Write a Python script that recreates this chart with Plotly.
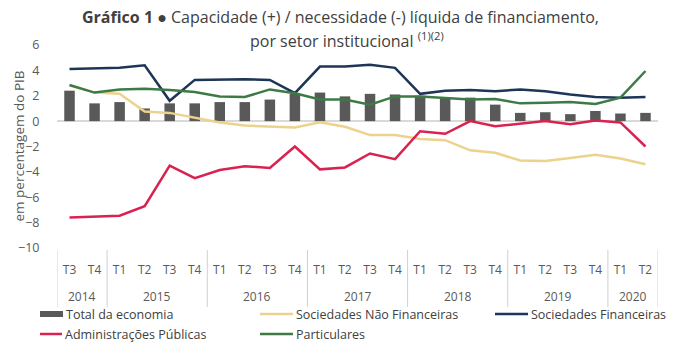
import plotly.graph_objects as go

years = ["2014"] * 2 + ["2015"] * 4 + ["2016"] * 4 + ["2017"] * 4 + ["2018"] * 4 + ["2019"] * 4 + ["2020"] * 2
quarters = ["T3", "T4"] + ["T1", "T2", "T3", "T4"] * 5 + ["T1", "T2"]

total_economia = [2.4, 1.4, 1.5, 1.0, 1.4, 1.4, 1.5, 1.5, 1.7, 2.15, 2.25, 1.95,
                  2.15, 2.1, 2.0, 1.9, 1.85, 1.3, 0.65, 0.7, 0.55, 0.8, 0.6, 0.65]
soc_nao_financeiras = [2.8, 2.25, 2.15, 0.75, 0.65, 0.25, -0.1, -0.35, -0.45, -0.5, -0.1, -0.45,
                       -1.1, -1.1, -1.4, -1.5, -2.3, -2.5, -3.1, -3.15, -2.9, -2.65, -2.95, -3.4]
soc_financeiras = [4.1, 4.15, 4.2, 4.4, 1.6, 3.25, 3.3, 3.3, 3.25, 2.2, 4.3, 4.3,
                   4.45, 4.2, 2.15, 2.4, 2.45, 2.35, 2.5, 2.35, 2.1, 1.9, 1.85, 1.9]
adm_publicas = [-7.6, -7.5, -7.45, -6.7, -3.5, -4.5, -3.85, -3.55, -3.7, -2.0, -3.8, -3.65,
                -2.55, -3.0, -0.8, -1.0, 0.0, -0.4, -0.2, 0.0, -0.25, 0.05, -0.1, -2.0]
particulares = [2.85, 2.25, 2.5, 2.55, 2.45, 2.3, 1.95, 1.9, 2.5, 2.2, 1.7, 1.7,
                1.3, 1.95, 1.95, 1.85, 1.7, 1.75, 1.4, 1.45, 1.5, 1.35, 1.85, 3.95]

names = ["Total da economia", "Sociedades Não Financeiras", "Sociedades Financeiras",
         "Administrações Públicas", "Particulares"]
colors = ["#595959", "#ecd28c", "#1d3557", "#d92250", "#3d7a46"]

W, H = 680, 351
L, R, T, B = 57, 22, 45, 103
PW, PH = W - L - R, H - T - B

def px_x(px):
    return (px - L) / PW

def px_y(py):
    return (H - B - py) / PH

xs = list(range(len(quarters)))
fig = go.Figure()
fig.add_trace(go.Bar(x=xs, y=total_economia, name=names[0], marker_color=colors[0],
                     marker_line_width=0, showlegend=False))
for vals, nm, col in [(soc_nao_financeiras, names[1], colors[1]),
                      (soc_financeiras, names[2], colors[2]),
                      (adm_publicas, names[3], colors[3]),
                      (particulares, names[4], colors[4])]:
    fig.add_trace(go.Scatter(x=xs, y=vals, name=nm, mode="lines",
                             line=dict(color=col, width=2.5), showlegend=False))

font = "Open Sans, sans-serif"
fig.update_layout(
    width=W, height=H,
    margin=dict(l=L, r=R, t=T, b=B),
    paper_bgcolor="white", plot_bgcolor="white",
    bargap=0.58,
    font=dict(family=font, size=12, color="#595959"),
    xaxis=dict(range=[-0.5, len(quarters) - 0.5], showgrid=False, showline=False, zeroline=False,
               tickmode="array", tickvals=xs, ticktext=quarters,
               ticks="outside", ticklen=11, tickcolor="rgba(0,0,0,0)",
               tickfont=dict(size=12, color="#595959")),
    yaxis=dict(range=[-10, 6], dtick=2, showgrid=False, showline=False,
               zeroline=True, zerolinecolor="#d9d9d9", zerolinewidth=1.5,
               ticks="outside", ticklen=14, tickcolor="rgba(0,0,0,0)",
               tickfont=dict(size=12.5, color="#595959")),
)

# Y axis title
fig.add_annotation(text="em percentagem do PIB", xref="paper", yref="paper",
                   x=px_x(18), y=0.5, xanchor="center", yanchor="middle", textangle=-90,
                   showarrow=False, font=dict(size=13.5, color="#595959", family=font))

# Year group labels and dividers
groups = []
for i, yv in enumerate(years):
    if not groups or groups[-1][0] != yv:
        groups.append([yv, i, i])
    else:
        groups[-1][2] = i
for yv, i0, i1 in groups:
    fig.add_annotation(text=yv, xref="x", yref="paper", x=(i0 + i1) / 2, y=px_y(296),
                       xanchor="center", yanchor="middle", showarrow=False,
                       font=dict(size=12, color="#595959", family=font))
    fig.add_shape(type="line", xref="x", yref="paper", x0=i0 - 0.5, x1=i0 - 0.5,
                  y0=px_y(250), y1=px_y(307), line=dict(color="#d0d0d0", width=1))
fig.add_shape(type="line", xref="x", yref="paper", x0=len(years) - 0.5, x1=len(years) - 0.5,
              y0=px_y(250), y1=px_y(307), line=dict(color="#d0d0d0", width=1))

# Title
fig.add_annotation(text="<b>Gráfico 1 ●</b> Capacidade (+) / necessidade (-) líquida de financiamento,",
                   xref="paper", yref="paper", x=px_x(340), y=px_y(17), xanchor="center",
                   yanchor="middle", showarrow=False, font=dict(size=16, color="#404040", family=font))
fig.add_annotation(text="por setor institucional <sup>(1)(2)</sup>",
                   xref="paper", yref="paper", x=px_x(347), y=px_y(40), xanchor="center",
                   yanchor="middle", showarrow=False, font=dict(size=16, color="#404040", family=font))

# Manual legend
legend_items = [
    (0, 40, 63, 314, "bar"),
    (1, 260, 293, 314, "line"),
    (2, 495, 528, 314, "line"),
    (3, 40, 62, 334, "line"),
    (4, 260, 293, 334, "line"),
]
for idx, x0, x1, yc, kind in legend_items:
    if kind == "bar":
        fig.add_shape(type="rect", xref="paper", yref="paper",
                      x0=px_x(x0), x1=px_x(x1), y0=px_y(yc + 3), y1=px_y(yc - 3),
                      fillcolor=colors[idx], line_width=0)
    else:
        fig.add_shape(type="line", xref="paper", yref="paper",
                      x0=px_x(x0), x1=px_x(x1), y0=px_y(yc), y1=px_y(yc),
                      line=dict(color=colors[idx], width=2.5))
    fig.add_annotation(text=names[idx], xref="paper", yref="paper",
                       x=px_x(x1 + 1), y=px_y(yc), xanchor="left", yanchor="middle",
                       showarrow=False, font=dict(size=12.5, color="#404040", family=font))

fig.write_html("out.html")
